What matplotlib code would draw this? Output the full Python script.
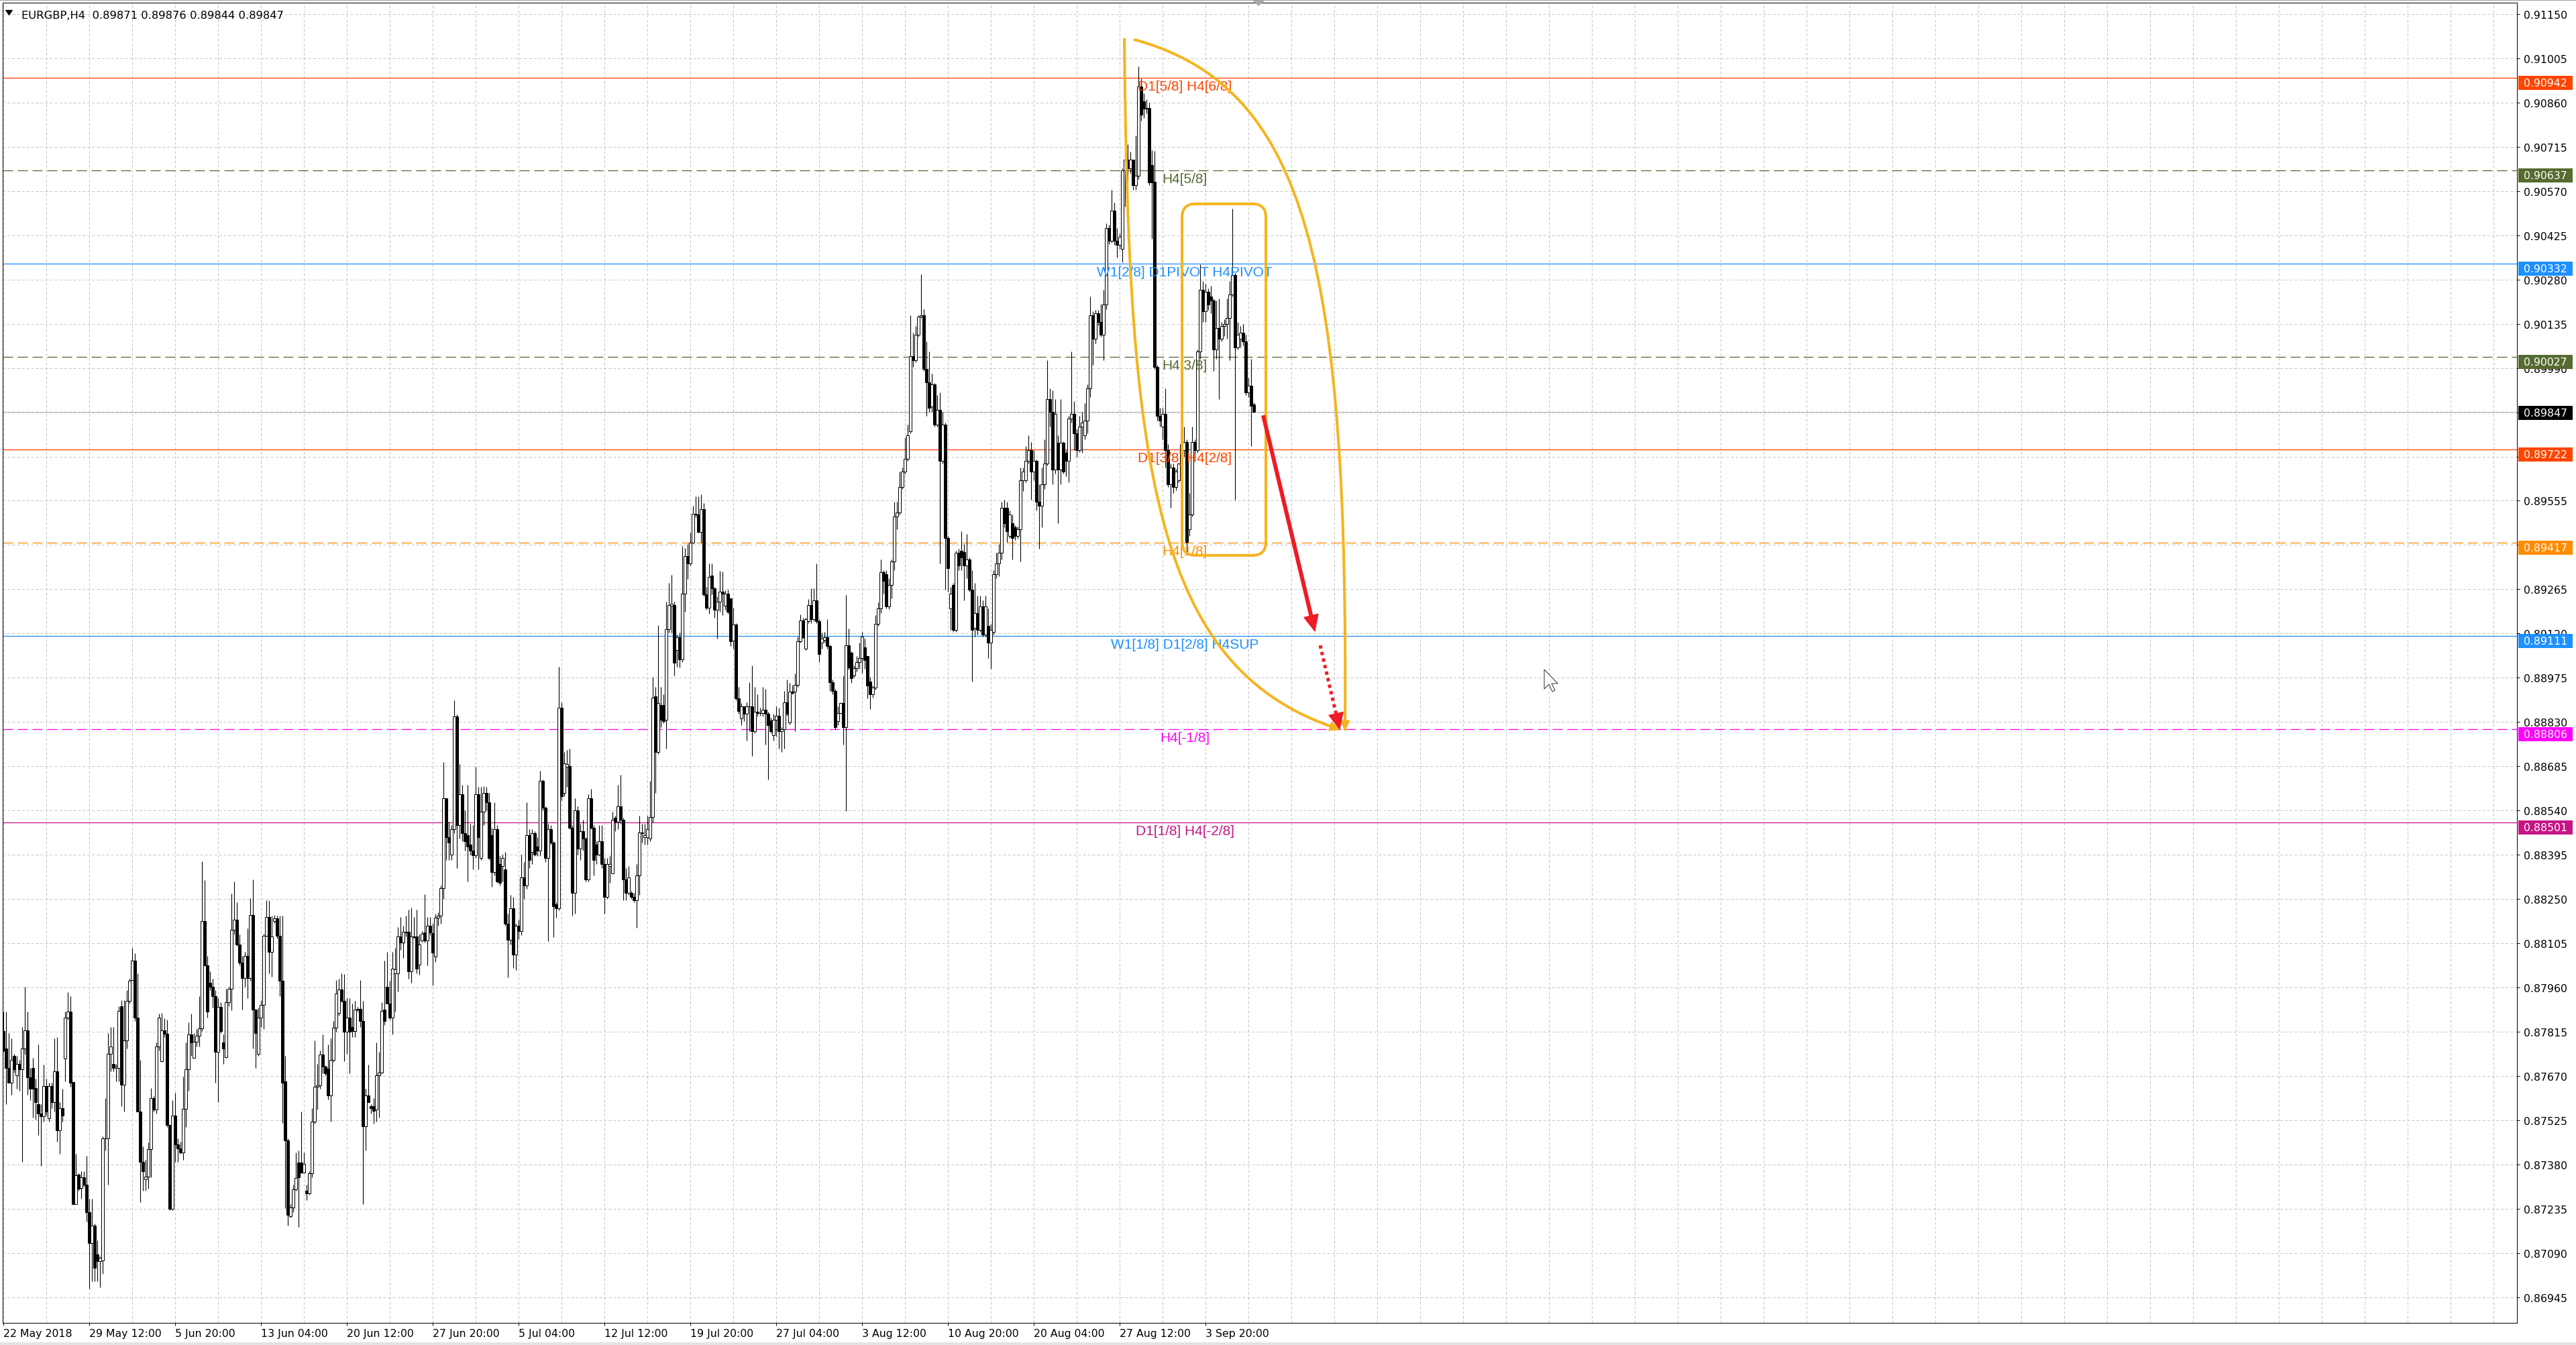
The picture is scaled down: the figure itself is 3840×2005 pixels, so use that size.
import matplotlib
matplotlib.use("Agg")
import matplotlib.pyplot as plt
from matplotlib.transforms import IdentityTransform, offset_copy
from matplotlib.patches import Rectangle, FancyBboxPatch, PathPatch, Polygon
from matplotlib.path import Path
from matplotlib.lines import Line2D
import numpy as np

plt.rcParams['lines.scale_dashes'] = False
plt.rcParams['font.family'] = ['DejaVu Sans']

# ---------------- data (prices in 1e-5 units) ----------------
SYMBOL = "EURGBP,H4"

OPEN = [
87817, 87760, 87697, 87647, 87735, 87672, 87710, 87691, 87760, 87820,
87666, 87697, 87631, 87578, 87546, 87537, 87637, 87530, 87637, 87584,
87685, 87492, 87565, 87727, 87861, 87880, 87650, 87250, 87346, 87302,
87338, 87313, 87224, 87123, 87180, 87085, 87063, 87066, 87464, 87466,
87742, 87710, 87697, 87697, 87899, 87641, 87786, 87916, 87984, 88047,
87861, 87552, 87388, 87331, 87340, 87429, 87596, 87559, 87767, 87719,
87820, 87808, 87508, 87234, 87540, 87445, 87432, 87420, 87562, 87691,
87805, 87729, 87782, 87802, 87826, 88177, 88032, 87975, 87962, 87931,
87748, 87897, 87779, 87731, 87912, 87956, 88149, 88181, 88101, 88042,
87991, 88063, 87991, 88198, 87887, 87742, 87861, 87902, 88130, 88190,
88076, 88177, 88186, 88130, 87981, 87653, 87458, 87211, 87239, 87297,
87385, 87385, 87353, 87294, 87285, 87350, 87521, 87634, 87638, 87739,
87701, 87693, 87605, 87723, 87827, 87877, 87954, 87916, 87815, 87861,
87830, 87817, 87887, 87889, 87849, 87504, 87605, 87571, 87571, 87559,
87672, 87681, 87887, 87962, 87908, 87861, 88007, 88007, 88127, 88108,
88143, 88143, 88013, 88127, 88127, 88034, 88114, 88139, 88114, 88161,
88137, 88062, 88188, 88194, 88286, 88579, 88453, 88396, 88478, 88847,
88491, 88592, 88466, 88459, 88428, 88409, 88392, 88592, 88384, 88535,
88598, 88567, 88459, 88339, 88478, 88365, 88358, 88346, 88169, 88115,
88219, 88068, 88163, 88144, 88320, 88295, 88459, 88403, 88466, 88421,
88409, 88636, 88548, 88384, 88478, 88434, 88232, 88219, 88876, 88598,
88683, 88686, 88484, 88270, 88541, 88415, 88472, 88447, 88314, 88579,
88484, 88428, 88396, 88440, 88365, 88257, 88358, 88333, 88516, 88503,
88554, 88510, 88314, 88270, 88270, 88257, 88245, 88327, 88466, 88453,
88453, 88447, 88519, 88914, 88731, 88885, 88885, 88838, 89134, 89210,
89213, 89065, 89107, 89036, 89251, 89374, 89349, 89418, 89513, 89510,
89452, 89528, 89248, 89204, 89309, 89267, 89198, 89225, 89258, 89210,
89251, 89235, 89097, 89150, 88907, 88842, 88882, 88857, 88882, 88880,
88800, 88863, 88859, 88860, 88869, 88857, 88834, 88787, 88838, 88850,
88800, 88806, 88895, 88829, 88930, 88930, 88951, 89094, 89162, 89071,
89160, 89213, 89166, 89229, 89160, 89090, 89099, 89107, 89078, 88960,
88932, 88832, 88859, 88891, 88813, 89081, 89056, 88983, 89006, 89027,
89040, 89075, 89047, 88963, 88921, 88942, 89152, 89201, 89320, 89314,
89208, 89279, 89356, 89503, 89517, 89601, 89650, 89692, 89783, 90029,
90015, 90099, 90158, 90162, 89986, 89944, 89863, 89937, 89804, 89853,
89685, 89804, 89433, 89201, 89279, 89131, 89384, 89391, 89386, 89342,
89363, 89264, 89138, 89187, 89131, 89208, 89117, 89145, 89089, 89124,
89314, 89349, 89384, 89531, 89531, 89440, 89482, 89468, 89440, 89461,
89622, 89622, 89685, 89720, 89650, 89685, 89552, 89538, 89608, 89678,
89888, 89846, 89657, 89745, 89657, 89745, 89713, 89685, 89825, 89839,
89776, 89720, 89797, 89769, 89818, 89923, 90162, 90085, 90169, 90141,
90099, 90197, 90449, 90407, 90505, 90407, 90393, 90380, 90638, 90673,
90645, 90673, 90589, 90620, 90913, 90864, 90840, 90842, 90655, 90600,
89993, 89832, 89797, 89839, 89720, 89608, 89664, 89601, 89622, 89678,
89720, 89748, 89461, 89510, 89748, 89720, 90043, 90246, 90176, 90239,
90225, 90211, 90050, 90120, 90085, 90127, 90134, 90155, 90232, 90295,
90057, 90085, 90106, 90078, 89909, 89933, 89871,
]

HIGH = [
87880, 87880, 87811, 87792, 87742, 87735, 87723, 87830, 87962, 87880,
87697, 87729, 87660, 87773, 87578, 87707, 87660, 87647, 87647, 87792,
87798, 87584, 87628, 87880, 87944, 87931, 87650, 87414, 87350, 87357,
87357, 87407, 87268, 87268, 87186, 87130, 87079, 87471, 87596, 87811,
87830, 87830, 87710, 87899, 87918, 87918, 87950, 87988, 88089, 88072,
88007, 87723, 87439, 87395, 87451, 87631, 87603, 87779, 87874, 87877,
87858, 87855, 87510, 87590, 87615, 87464, 87454, 87668, 87779, 87845,
87874, 87811, 87824, 87931, 88373, 88312, 88063, 88013, 87988, 87950,
87925, 87912, 87805, 87956, 87962, 88268, 88307, 88238, 88133, 88063,
88076, 88154, 88253, 88313, 87890, 87893, 87918, 88135, 88246, 88246,
88196, 88198, 88196, 88196, 88194, 87735, 87464, 87250, 87313, 87420,
87426, 87552, 87420, 87313, 87357, 87565, 87786, 87710, 87754, 87805,
87704, 87773, 87792, 87849, 87984, 87988, 88007, 88004, 87925, 87925,
87906, 87915, 87896, 87984, 87915, 87628, 87706, 87578, 87596, 87779,
87748, 87912, 88047, 88076, 87981, 88076, 88089, 88158, 88190, 88161,
88196, 88215, 88221, 88190, 88215, 88133, 88145, 88265, 88190, 88190,
88169, 88201, 88207, 88295, 88699, 88579, 88503, 88491, 88901, 88854,
88693, 88623, 88541, 88623, 88497, 88491, 88683, 88617, 88617, 88620,
88617, 88598, 88484, 88567, 88491, 88390, 88396, 88403, 88201, 88264,
88257, 88169, 88182, 88396, 88371, 88567, 88478, 88478, 88472, 88453,
88670, 88642, 88554, 88497, 88491, 88440, 88238, 89011, 88895, 88731,
88737, 88743, 88491, 88579, 88554, 88497, 88510, 88453, 88592, 88611,
88491, 88440, 88491, 88491, 88384, 88384, 88390, 88535, 88522, 88623,
88657, 88516, 88352, 88358, 88276, 88270, 88365, 88522, 88497, 88497,
88522, 88636, 88977, 88945, 89147, 88945, 88920, 89225, 89286, 89311,
89225, 89116, 89122, 89406, 89399, 89412, 89450, 89538, 89570, 89570,
89576, 89548, 89273, 89349, 89349, 89273, 89242, 89326, 89324, 89261,
89263, 89235, 89204, 89153, 88945, 88892, 88882, 88895, 88960, 89015,
88945, 88920, 88876, 88945, 88939, 88863, 88844, 88857, 88882, 88876,
88813, 88932, 88970, 88958, 88951, 88989, 89109, 89182, 89172, 89172,
89233, 89267, 89267, 89349, 89166, 89122, 89124, 89166, 89084, 88970,
88939, 88882, 88895, 88983, 89246, 89137, 89061, 89015, 89046, 89089,
89124, 89103, 89047, 88977, 88950, 89180, 89222, 89363, 89328, 89328,
89300, 89363, 89552, 89552, 89650, 89664, 89762, 89804, 90162, 90106,
90127, 90162, 90298, 90183, 90078, 90043, 89972, 89940, 89902, 89909,
89846, 89810, 89440, 89272, 89286, 89391, 89398, 89454, 89412, 89447,
89370, 89328, 89286, 89243, 89243, 89229, 89243, 89201, 89152, 89328,
89384, 89412, 89552, 89559, 89552, 89524, 89510, 89475, 89470, 89664,
89664, 89734, 89769, 89748, 89720, 89690, 89608, 89664, 89755, 90015,
89923, 89916, 89888, 89769, 89888, 89750, 89720, 89832, 90043, 89881,
89790, 89832, 89846, 89874, 89937, 90225, 90176, 90180, 90180, 90200,
90246, 90463, 90460, 90575, 90533, 90449, 90430, 90645, 90680, 90723,
90700, 90673, 90751, 90979, 90940, 90890, 90870, 90860, 90704, 90701,
90001, 89860, 89860, 89923, 89740, 89678, 89678, 89660, 89680, 89811,
89797, 89755, 89580, 89797, 89755, 90050, 90330, 90274, 90267, 90250,
90260, 90218, 90211, 90218, 90141, 90150, 90218, 90274, 90512, 90302,
90141, 90127, 90134, 90099, 89958, 90021, 89876,
]

LOW = [
87748, 87578, 87647, 87609, 87680, 87628, 87622, 87388, 87740, 87609,
87590, 87533, 87527, 87477, 87376, 87521, 87540, 87521, 87565, 87552,
87454, 87414, 87521, 87653, 87855, 87634, 87250, 87250, 87294, 87268,
87306, 87193, 86972, 86997, 86997, 86997, 86978, 87022, 87426, 87313,
87685, 87685, 87653, 87653, 87571, 87552, 87760, 87906, 87981, 87849,
87552, 87256, 87294, 87294, 87300, 87338, 87552, 87546, 87754, 87716,
87798, 87502, 87230, 87230, 87388, 87388, 87414, 87395, 87502, 87622,
87735, 87729, 87767, 87767, 87817, 88030, 87861, 87950, 87893, 87647,
87584, 87811, 87710, 87729, 87899, 87884, 88133, 88095, 88032, 87887,
87962, 87925, 87981, 87760, 87697, 87735, 87830, 87824, 88127, 88007,
87994, 88171, 88120, 87931, 87516, 87237, 87180, 87205, 87224, 87294,
87174, 87350, 87350, 87262, 87281, 87338, 87514, 87559, 87628, 87678,
87672, 87592, 87521, 87716, 87815, 87868, 87912, 87719, 87742, 87678,
87798, 87798, 87880, 87830, 87250, 87426, 87584, 87546, 87514, 87521,
87533, 87678, 87836, 87906, 87855, 87805, 87880, 87946, 88082, 88057,
88127, 87988, 87975, 88120, 88007, 88001, 88110, 88108, 88032, 88131,
87967, 88043, 88163, 88169, 88251, 88377, 88377, 88377, 88466, 88352,
88447, 88440, 88409, 88308, 88396, 88346, 88384, 88346, 88377, 88491,
88541, 88377, 88289, 88327, 88302, 88295, 88308, 88163, 87992, 88100,
88024, 88018, 88119, 88131, 88251, 88283, 88352, 88365, 88390, 88390,
88390, 88541, 88371, 88112, 88428, 88125, 88188, 88213, 88573, 88586,
88617, 88478, 88194, 88201, 88396, 88377, 88409, 88308, 88308, 88478,
88327, 88365, 88390, 88352, 88201, 88251, 88302, 88333, 88472, 88478,
88497, 88245, 88245, 88264, 88251, 88238, 88156, 88264, 88434, 88428,
88428, 88440, 88500, 88598, 88724, 88813, 88825, 88743, 89122, 89122,
88983, 89011, 89008, 89027, 89191, 89298, 89343, 89415, 89500, 89450,
89418, 89242, 89198, 89185, 89248, 89172, 89103, 89191, 89179, 89198,
89185, 89078, 89071, 88901, 88857, 88819, 88832, 88768, 88800, 88718,
88794, 88847, 88850, 88847, 88756, 88642, 88794, 88768, 88781, 88743,
88731, 88743, 88850, 88821, 88920, 88800, 88945, 89090, 89103, 89065,
89153, 89153, 89160, 89153, 89027, 89071, 89090, 89071, 88932, 88920,
88806, 88819, 88857, 88756, 88539, 89002, 88958, 88977, 88996, 89005,
88991, 89005, 88907, 88872, 88910, 88935, 89145, 89187, 89250, 89201,
89200, 89236, 89328, 89461, 89510, 89594, 89643, 89685, 89776, 89993,
90010, 90092, 90155, 89980, 89832, 89846, 89846, 89797, 89797, 89349,
89678, 89264, 89258, 89131, 89124, 89124, 89328, 89328, 89229, 89300,
89258, 88963, 89110, 89117, 89124, 89110, 89110, 89040, 89005, 89117,
89300, 89307, 89363, 89468, 89419, 89433, 89363, 89426, 89430, 89356,
89587, 89615, 89678, 89559, 89622, 89524, 89398, 89468, 89594, 89671,
89797, 89608, 89643, 89482, 89608, 89643, 89636, 89615, 89811, 89720,
89699, 89715, 89713, 89755, 89776, 89895, 90001, 90070, 90130, 90092,
90015, 90183, 90395, 90400, 90393, 90351, 90380, 90337, 90519, 90582,
90630, 90575, 90575, 90610, 90800, 90810, 90825, 90589, 90413, 89986,
89818, 89797, 89755, 89664, 89601, 89531, 89580, 89590, 89615, 89608,
89699, 89377, 89440, 89503, 89706, 89713, 90021, 90141, 90141, 90180,
90169, 89980, 90021, 89888, 90078, 90095, 90085, 90015, 90225, 89559,
90050, 90057, 90064, 89902, 89895, 89734, 89844,
]

CLOSE = [
87754, 87697, 87647, 87723, 87691, 87710, 87691, 87760, 87820, 87666,
87628, 87628, 87584, 87546, 87537, 87637, 87552, 87637, 87584, 87685,
87492, 87565, 87540, 87861, 87880, 87647, 87250, 87344, 87300, 87338,
87313, 87224, 87123, 87180, 87041, 87063, 87073, 87464, 87466, 87742,
87767, 87697, 87700, 87883, 87641, 87786, 87916, 87981, 88047, 87861,
87552, 87388, 87357, 87340, 87429, 87596, 87559, 87767, 87861, 87820,
87808, 87508, 87234, 87540, 87445, 87432, 87420, 87562, 87691, 87805,
87779, 87782, 87802, 87826, 88177, 88032, 87880, 87962, 87931, 87748,
87897, 87817, 87760, 87912, 87956, 88149, 88181, 88101, 88042, 87991,
88063, 87991, 88198, 87887, 87811, 87861, 87902, 88130, 88190, 88076,
88127, 88186, 88130, 87981, 87647, 87458, 87214, 87239, 87297, 87335,
87338, 87353, 87382, 87285, 87350, 87521, 87634, 87638, 87739, 87701,
87678, 87605, 87723, 87827, 87941, 87954, 87916, 87815, 87861, 87815,
87817, 87887, 87889, 87849, 87504, 87605, 87584, 87565, 87555, 87672,
87681, 87883, 87849, 87906, 87861, 88022, 88019, 88127, 88108, 88143,
88141, 88013, 88127, 88125, 88022, 88101, 88135, 88114, 88161, 88140,
88074, 88188, 88194, 88286, 88579, 88453, 88434, 88478, 88847, 88491,
88592, 88466, 88440, 88421, 88409, 88392, 88592, 88453, 88535, 88598,
88567, 88384, 88339, 88478, 88308, 88302, 88384, 88169, 88115, 88219,
88068, 88163, 88144, 88320, 88295, 88459, 88377, 88466, 88396, 88409,
88636, 88548, 88384, 88478, 88434, 88226, 88219, 88876, 88586, 88695,
88693, 88484, 88270, 88541, 88415, 88472, 88447, 88314, 88579, 88484,
88377, 88396, 88440, 88365, 88257, 88365, 88365, 88510, 88503, 88554,
88510, 88314, 88270, 88320, 88257, 88245, 88327, 88468, 88468, 88459,
88478, 88519, 88910, 88731, 88892, 88838, 88832, 89134, 89213, 89217,
89023, 89107, 89036, 89251, 89374, 89349, 89418, 89513, 89510, 89452,
89528, 89248, 89204, 89305, 89267, 89198, 89225, 89258, 89251, 89251,
89191, 89094, 89150, 88907, 88866, 88882, 88857, 88882, 88880, 88800,
88863, 88859, 88860, 88869, 88857, 88819, 88800, 88838, 88850, 88800,
88806, 88895, 88857, 88930, 88926, 88951, 89094, 89162, 89107, 89166,
89213, 89166, 89229, 89160, 89052, 89103, 89107, 89078, 88960, 88932,
88813, 88859, 88891, 88813, 89081, 89008, 88973, 89006, 89027, 89040,
89110, 89033, 88949, 88921, 88942, 89152, 89201, 89320, 89293, 89208,
89279, 89356, 89503, 89517, 89601, 89650, 89692, 89769, 90029, 90015,
90099, 90158, 90162, 89986, 89944, 89860, 89937, 89804, 89853, 89685,
89804, 89433, 89335, 89250, 89131, 89384, 89342, 89370, 89342, 89363,
89264, 89131, 89187, 89131, 89208, 89117, 89208, 89089, 89131, 89314,
89349, 89384, 89531, 89482, 89454, 89510, 89433, 89440, 89461, 89622,
89650, 89685, 89720, 89650, 89685, 89552, 89538, 89608, 89678, 89888,
89846, 89657, 89839, 89657, 89745, 89650, 89685, 89825, 89839, 89776,
89720, 89797, 89811, 89818, 89923, 90162, 90085, 90169, 90141, 90099,
90197, 90449, 90407, 90505, 90407, 90393, 90421, 90638, 90673, 90645,
90673, 90589, 90620, 90913, 90820, 90840, 90842, 90598, 90598, 89993,
89832, 89818, 89839, 89720, 89608, 89664, 89601, 89650, 89678, 89741,
89748, 89419, 89510, 89748, 89720, 90043, 90246, 90176, 90239, 90197,
90211, 90050, 90120, 90085, 90127, 90134, 90155, 90232, 90295, 90057,
90099, 90106, 90078, 89909, 89933, 89867, 89847,
]

DATE_LABELS = ["22 May 2018", "29 May 12:00", "5 Jun 20:00", "13 Jun 04:00",
               "20 Jun 12:00", "27 Jun 20:00", "5 Jul 04:00", "12 Jul 12:00",
               "19 Jul 20:00", "27 Jul 04:00", "3 Aug 12:00", "10 Aug 20:00",
               "20 Aug 04:00", "27 Aug 12:00", "3 Sep 20:00"]
BARS_PER_LABEL = 32

PRICE_TICKS = [0.91150, 0.91005, 0.90860, 0.90715, 0.90570, 0.90425, 0.90280,
               0.90135, 0.89990, 0.89845, 0.89700, 0.89555, 0.89410, 0.89265,
               0.89120, 0.88975, 0.88830, 0.88685, 0.88540, 0.88395, 0.88250,
               0.88105, 0.87960, 0.87815, 0.87670, 0.87525, 0.87380, 0.87235,
               0.87090, 0.86945]

LEVEL_PRICES = [0.90942, 0.90637, 0.90332, 0.90027, 0.89722, 0.89417, 0.89111, 0.88806, 0.88501]
LEVEL_TEXTS = ["D1[5/8] H4[6/8]", "H4[5/8]", "W1[2/8] D1PIVOT H4PIVOT", "H4[3/8]",
               "D1[3/8] H4[2/8]", "H4[1/8]", "W1[1/8] D1[2/8] H4SUP", "H4[-1/8]",
               "D1[1/8] H4[-2/8]"]
LEVEL_COLORS = ["#FF4500", "#556B2F", "#1E90FF", "#556B2F", "#FF4500", "#FF8C00",
                "#1E90FF", "#FF00FF", "#C71585"]
LEVEL_DASHED = [False, True, False, True, False, True, False, True, False]
LEVEL_LABEL_BAR = 440.25
CURRENT_PRICE = 0.89847

# drawn annotations (bar index, price)
LEFT_ARC = [(417.75, 0.91071), (419.25, 0.89659), (428.75, 0.89000), (498.0, 0.88806)]
RIGHT_ARC = [(421.25, 0.91067), (486.25, 0.90913), (501.25, 0.90319), (500.0, 0.88802)]
BOX_BARS = [439.25, 470.5]
BOX_PRICES = [0.89376, 0.90528]
RED_ARROW = [(469.5, 0.89835), (488.75, 0.89127)]
RED_DOTTED = [(490.75, 0.89081), (498.0, 0.88806)]

# ---------------- layout ----------------
W, H, DPI = 3840, 2006, 100
PX = 72.0 / DPI
ORANGE = "#F5B41E"
RED = "#EE1C24"

fig = plt.figure(figsize=(W / DPI, H / DPI), dpi=DPI)
fig.patch.set_facecolor("white")

L_PX, R_PX, T_PX, B_PX = 4, 3752, 5, 1973
ax = fig.add_axes([L_PX / W, 1 - B_PX / H, (R_PX - L_PX) / W, (B_PX - T_PX) / H])
BAR_W_PX, X0_PX = 4.0, 5.0
P_PER_PX = 0.00145 / 65.95
REF_P, REF_PY = 0.91150, 22.0
ax.set_xlim((L_PX - X0_PX) / BAR_W_PX, (R_PX - X0_PX) / BAR_W_PX)
ax.set_ylim(REF_P - (B_PX - REF_PY) * P_PER_PX, REF_P + (REF_PY - T_PX) * P_PER_PX)
ax.set_autoscale_on(False)
ax.set_facecolor("white")

# grid / ticks
n_lab = len(DATE_LABELS)
major_x = [k * BARS_PER_LABEL for k in range(n_lab)]
xmax = ax.get_xlim()[1]
minor_x = [k * 16 for k in range(1, int(xmax // 16) + 1) if k * 16 not in major_x]
ax.set_xticks(major_x)
ax.set_xticklabels(DATE_LABELS)
ax.set_xticks(minor_x, minor=True)
ax.yaxis.tick_right()
ax.set_yticks(PRICE_TICKS)
ax.set_yticklabels([f"{p:.5f}" for p in PRICE_TICKS])
ax.tick_params(axis="y", which="major", direction="out", length=4 * PX, width=PX,
               pad=6 * PX, labelsize=11.3, colors="black")
ax.tick_params(axis="x", which="major", direction="out", length=4 * PX, width=PX,
               pad=4 * PX, labelsize=11.3, colors="black")
ax.tick_params(axis="x", which="minor", length=0)
for lbl in ax.get_xticklabels():
    lbl.set_ha("left")
grid_kw = dict(color="#C4C4C4", lw=PX, ls=(0, (4 * PX, 3 * PX)))
ax.grid(True, which="both", axis="x", **grid_kw)
ax.grid(True, which="major", axis="y", **grid_kw)
ax.set_axisbelow(True)
for s in ax.spines.values():
    s.set_color("black")
    s.set_linewidth(PX)

# level lines
for p, col, dashed in zip(LEVEL_PRICES, LEVEL_COLORS, LEVEL_DASHED):
    ls = (0, (15 * PX, 7 * PX)) if dashed else "-"
    ax.axhline(p, color=col, lw=1.3 * PX, ls=ls, zorder=1.5, snap=True)
ax.axhline(CURRENT_PRICE, color="#C0C0C0", lw=1.3 * PX, zorder=1.4, snap=True)

# candles
o = np.array(OPEN) / 1e5
h = np.array(HIGH) / 1e5
l = np.array(LOW) / 1e5
c = np.array(CLOSE) / 1e5
n = min(len(o), len(h), len(l), len(c))
o, h, l, c = o[:n], h[:n], l[:n], c[:n]
x = np.arange(n)
hi = np.maximum(h, np.maximum(o, c))
lo = np.minimum(l, np.minimum(o, c))
ax.vlines(x, lo, hi, color="black", lw=1.1 * PX, zorder=2)
bull = c >= o
bot = np.minimum(o, c)
hgt = np.abs(c - o)
ax.bar(x[bull], hgt[bull], 0.78, bottom=bot[bull], facecolor="white",
       edgecolor="black", linewidth=PX, zorder=2.1)
ax.bar(x[~bull], hgt[~bull], 0.78, bottom=bot[~bull], facecolor="black",
       edgecolor="black", linewidth=PX, zorder=2.1)

# level labels
tr = offset_copy(ax.transData, fig=fig, x=0, y=-3, units="dots")
for p, txt, col in zip(LEVEL_PRICES, LEVEL_TEXTS, LEVEL_COLORS):
    ax.text(LEVEL_LABEL_BAR, p, txt, color=col, fontsize=15,
            family=["Liberation Sans", "DejaVu Sans"], ha="center", va="top",
            transform=tr, zorder=3)

# annotations (display coords)
def P(pt):
    return ax.transData.transform(pt)

def head(tip, frm, length, half, color):
    tip = np.asarray(tip, float)
    frm = np.asarray(frm, float)
    d = tip - frm
    d /= np.hypot(d[0], d[1])
    base = tip - d * length
    perp = np.array([-d[1], d[0]])
    ax.add_patch(Polygon([tip, base + perp * half, base - perp * half], closed=True,
                         transform=IdentityTransform(), facecolor=color,
                         edgecolor=color, lw=PX, zorder=4.2))
    return base

for arc in (LEFT_ARC, RIGHT_ARC):
    v = [P(pt) for pt in arc]
    path = Path(v, [Path.MOVETO, Path.CURVE4, Path.CURVE4, Path.CURVE4])
    ax.add_patch(PathPatch(path, transform=IdentityTransform(), fill=False,
                           edgecolor=ORANGE, lw=4 * PX, capstyle="butt", zorder=4))
    head(v[3], v[2], 15, 7, ORANGE)

(bx0, by0) = P((BOX_BARS[0], BOX_PRICES[0]))
(bx1, by1) = P((BOX_BARS[1], BOX_PRICES[1]))
ax.add_patch(FancyBboxPatch((bx0, by0), bx1 - bx0, by1 - by0,
                            boxstyle="round,pad=0,rounding_size=20",
                            transform=IdentityTransform(), fill=False,
                            edgecolor=ORANGE, lw=4 * PX, zorder=4))

s = P(RED_ARROW[0]); t = P(RED_ARROW[1])
b = head(t, s, 24, 11, RED)
ax.add_line(Line2D([s[0], b[0]], [s[1], b[1]], transform=IdentityTransform(),
                   color=RED, lw=6 * PX, solid_capstyle="butt", zorder=4.1))
s = P(RED_DOTTED[0]); t = P(RED_DOTTED[1])
b = head(t, s, 24, 11, RED)
ax.add_line(Line2D([s[0], b[0]], [s[1], b[1]], transform=IdentityTransform(),
                   color=RED, lw=5 * PX, ls=(0, (5 * PX, 5 * PX)),
                   dash_capstyle="butt", zorder=4.1))

# right-side price boxes (MT4 draws object price tags slightly below the level)
box_prices = LEVEL_PRICES[:4] + [CURRENT_PRICE] + LEVEL_PRICES[4:]
box_colors = LEVEL_COLORS[:4] + ["#000000"] + LEVEL_COLORS[4:]
box_shift = [7.5] * 4 + [1.5] + [7.5] * 5
for p, col, sh in zip(box_prices, box_colors, box_shift):
    yd = ax.transData.transform((0, p))[1] - sh
    fig.add_artist(Rectangle((3754, yd - 10.5), 81, 21, transform=IdentityTransform(),
                             facecolor=col, edgecolor="none", zorder=5))
    fig.text(3762 / W, yd / H, f"{p:.5f}", color="white", fontsize=11.3,
             va="center", ha="left", zorder=6)

# header
fig.add_artist(Polygon([(8, H - 16), (19, H - 16), (13.5, H - 24)], closed=True,
                       transform=IdentityTransform(), facecolor="black",
                       edgecolor="black", lw=0.3, zorder=6))
fig.text(32 / W, 1 - 28 / H,
         f"{SYMBOL}  {o[-1]:.5f} {h[-1]:.5f} {l[-1]:.5f} {c[-1]:.5f}",
         fontsize=11.8, va="baseline", ha="left", color="black", zorder=6)

# window decorations
fig.add_artist(Rectangle((0, H - 2), W, 2, transform=IdentityTransform(),
                         facecolor="#A0A0A0", edgecolor="none", zorder=6))
fig.add_artist(Rectangle((0, 0), W, 4, transform=IdentityTransform(),
                         facecolor="#E3E3E3", edgecolor="none", zorder=6))
fig.add_artist(Polygon([(1867, H - 2), (1885, H - 2), (1876, H - 10)], closed=True,
                       transform=IdentityTransform(), facecolor="#A8A8A8",
                       edgecolor="none", zorder=6))
cx, cy = 2302, 999
cur = [(0, 0), (0, 29), (7, 22), (12, 33), (16, 31), (11, 21), (20, 21)]
fig.add_artist(Polygon([(cx + dx, H - (cy + dy)) for dx, dy in cur], closed=True,
                       transform=IdentityTransform(), facecolor="white",
                       edgecolor="#303030", lw=PX, zorder=7))

fig.savefig("out.png", dpi=DPI, facecolor="white")
